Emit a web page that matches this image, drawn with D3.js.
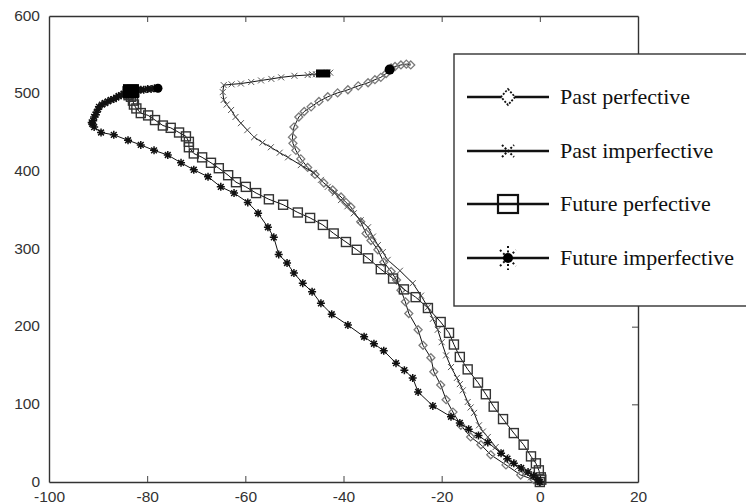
<!DOCTYPE html>
<html>
<head>
<meta charset="utf-8">
<script src="https://cdn.jsdelivr.net/npm/d3@7"></script>
<style>
  body { margin: 0; background: #fff; }
  svg { display: block; }
</style>
</head>
<body>
<div class="main-container"></div>
<script>
// data (x, y pairs from the origin outwards)
var pastPerfX = [0, -1.2, -3.9, -6.9, -10.0, -12.0, -14.1, -16.1, -17.7, -19.1, -20.2, -21.6, -22.2, -23.8, -24.8, -26.7, -27.4, -28.3, -29.2, -30.3, -31.8, -33.0, -34.4, -35.4, -36.5, -38.5, -39.5, -40.5, -42.2, -44.0, -45.8, -47.3, -48.7, -49.7, -50.3, -50.4, -50.1, -49.1, -48.0, -46.6, -45.0, -43.2, -41.2, -39.1, -37.0, -35.0, -33.6, -32.4, -31.3, -30.6, -30.3, -29.5, -28.3, -27.2, -26.3];
var pastPerfY = [0, 3, 9, 22, 35, 48, 58, 73, 90, 106, 125, 142, 160, 176, 196, 217, 232, 247, 260, 271, 283, 299, 311, 320, 335, 354, 360, 367, 376, 385, 396, 405, 416, 427, 436, 444, 457, 470, 477, 483, 490, 496, 501, 505, 510, 514, 518, 521, 526, 530, 533, 535, 537, 538, 537];

var pastImpX = [0, -0.6, -1.8, -3.1, -4.5, -5.7, -6.9, -8.0, -9.0, -10.6, -11.6, -12.4, -13.4, -14.1, -14.7, -15.7, -16.3, -16.9, -18.1, -19.1, -20.0, -20.8, -21.8, -22.8, -24.2, -25.9, -28.5, -31.0, -32.0, -33.0, -34.0, -35.0, -36.5, -37.9, -39.2, -40.5, -41.8, -43.2, -44.6, -46.0, -48.7, -51.3, -53.0, -54.8, -56.5, -58.2, -59.6, -60.9, -62.0, -62.9, -63.8, -64.4, -64.6, -64.4, -62.8, -60.9, -58.8, -56.8, -54.7, -52.7, -50.0, -47.3, -46.4, -45.6, -44.8, -44.0, -43.3, -42.7];
var pastImpY = [0, 2, 6, 12, 19, 25, 32, 38, 45, 58, 65, 73, 89, 96, 103, 118, 126, 134, 148, 163, 180, 196, 210, 225, 240, 256, 272, 286, 296, 305, 316, 328, 337, 346, 355, 363, 372, 380, 389, 398, 408, 418, 424, 431, 437, 444, 453, 462, 470, 479, 486, 492, 502, 511, 512, 513, 515, 517, 519, 521, 523, 524, 525, 525, 526, 526, 527, 527];

var futPerfX = [0, 0.3, 0.2, -0.2, -0.8, -1.8, -3.3, -5.3, -7.5, -9.4, -11.0, -12.6, -14.7, -16.3, -17.5, -18.5, -20.2, -22.8, -25.3, -27.7, -29.9, -32.4, -35.0, -37.3, -39.5, -42.0, -44.2, -46.8, -49.3, -52.3, -55.2, -57.8, -59.9, -61.9, -63.5, -65.4, -67.0, -68.8, -70.5, -71.5, -71.5, -72.1, -73.5, -75.2, -76.8, -78.4, -79.8, -81.3, -82.2, -82.7, -82.9, -83.3, -83.6, -84.0, -83.1, -82.6, -83.8];
var futPerfY = [0, 3, 6, 15, 24, 33, 48, 63, 81, 97, 113, 128, 145, 161, 177, 192, 206, 224, 238, 248, 262, 274, 288, 299, 309, 320, 331, 340, 347, 357, 364, 372, 380, 386, 395, 404, 411, 418, 423, 431, 438, 445, 450, 456, 459, 466, 472, 475, 481, 486, 491, 496, 500, 503, 505, 502, 498];

var futImpX = [0, -0.4, -1.3, -2.4, -3.8, -5.3, -6.6, -7.9, -10.6, -12.5, -14.5, -16.3, -18.1, -21.8, -24.8, -25.9, -27.6, -29.3, -31.8, -33.8, -35.8, -39.1, -42.4, -44.6, -46.4, -48.3, -50.1, -51.5, -53.2, -54.2, -55.4, -57.4, -59.5, -62.3, -65.0, -67.6, -70.5, -73.1, -75.8, -78.6, -81.3, -83.9, -86.8, -89.4, -90.8, -91.2, -91.3, -91.0, -90.8, -90.5, -90.3, -90.0, -89.8, -89.2, -88.6, -88.0, -87.4, -86.8, -86.3, -85.8, -85.3, -84.8, -84.3, -83.8, -83.3, -82.6, -82.0, -81.3, -80.7, -79.9, -79.2, -78.5, -77.8];
var futImpY = [0, 3, 8, 13, 18, 24, 30, 37, 51, 60, 68, 76, 84, 98, 116, 134, 144, 153, 169, 178, 187, 202, 216, 230, 245, 256, 269, 282, 293, 315, 328, 346, 360, 372, 380, 393, 402, 411, 421, 427, 434, 440, 447, 450, 457, 461, 463, 465, 470, 473, 476, 480, 483, 486, 488, 490, 492, 493, 495, 497, 498, 500, 502, 503, 505, 505, 505, 505, 505, 506, 506, 507, 507];

var seriesNames = ["Past perfective", "Past imperfective", "Future perfective", "Future imperfective"];
var xTicks = [-100, -80, -60, -40, -20, 0, 20];
var yTicks = [0, 100, 200, 300, 400, 500, 600];

var series = [
  { name: seriesNames[0], xs: pastPerfX, ys: pastPerfY, marker: "diamond" },
  { name: seriesNames[1], xs: pastImpX, ys: pastImpY, marker: "cross" },
  { name: seriesNames[2], xs: futPerfX, ys: futPerfY, marker: "square" },
  { name: seriesNames[3], xs: futImpX, ys: futImpY, marker: "star" }
];

var svg = d3.select(".main-container")
  .append("svg")
  .attr("width", 746)
  .attr("height", 504);

var x = d3.scaleLinear().domain([-100, 20]).range([49, 638]);
var y = d3.scaleLinear().domain([0, 600]).range([482, 16]);

var fmt = function (d) { return String(d); };

// bottom axis with labels, ticks pointing in
var gx = svg.append("g").attr("transform", "translate(0,482)")
  .call(d3.axisBottom(x).tickValues(xTicks).tickSizeInner(-6).tickSizeOuter(0).tickPadding(9).tickFormat(fmt));
// left axis, labels only
var gy = svg.append("g").attr("transform", "translate(49,0)")
  .call(d3.axisLeft(y).tickValues(yTicks).tickSizeInner(0).tickSizeOuter(0).tickPadding(9).tickFormat(fmt));
// top and right axes: ticks only
var gt = svg.append("g").attr("transform", "translate(0,16)")
  .call(d3.axisTop(x).tickValues(xTicks.slice(1, -1)).tickSizeInner(-6).tickSizeOuter(0).tickFormat(""));
var gr = svg.append("g").attr("transform", "translate(638,0)")
  .call(d3.axisRight(y).tickValues(yTicks.slice(1, -1)).tickSizeInner(-6).tickSizeOuter(0).tickFormat(""));

[gx, gy, gt, gr].forEach(function (g) {
  g.selectAll(".domain").attr("stroke", "#333").attr("stroke-width", 1.4);
  g.selectAll(".tick line").attr("stroke", "#444").attr("stroke-width", 1);
  g.selectAll(".tick text")
    .attr("font-family", "'Liberation Sans', Arial, sans-serif")
    .attr("font-size", 15.5)
    .attr("fill", "#333");
});
gy.selectAll(".tick text").attr("dy", "0.26em");

var line = d3.line()
  .x(function (d) { return x(d[0]); })
  .y(function (d) { return y(d[1]); });

function drawMarker(g, type, s) {
  if (type === "diamond") {
    g.append("path")
      .attr("d", "M0," + (-s) + "L" + s + ",0L0," + s + "L" + (-s) + ",0Z")
      .attr("fill", "none").attr("stroke", "#7a7a7a").attr("stroke-width", 1.3);
  } else if (type === "cross") {
    var c = s * 0.75;
    g.append("path")
      .attr("d", "M" + (-c) + "," + (-c) + "L" + c + "," + c + "M" + (-c) + "," + c + "L" + c + "," + (-c))
      .attr("stroke", "#555").attr("stroke-width", 1);
  } else if (type === "square") {
    g.append("rect")
      .attr("x", -s).attr("y", -s).attr("width", 2 * s).attr("height", 2 * s)
      .attr("fill", "none").attr("stroke", "#333").attr("stroke-width", 1.4);
  } else if (type === "star") {
    var a = s * 0.72;
    g.append("path")
      .attr("d", "M0," + (-s) + "L0," + s + "M" + (-s) + ",0L" + s + ",0M" + (-a) + "," + (-a) + "L" + a + "," + a + "M" + (-a) + "," + a + "L" + a + "," + (-a))
      .attr("stroke", "#111").attr("stroke-width", 1.5);
  }
}

var markerSize = { diamond: 4, cross: 4, square: 4.5, star: 4 };

series.forEach(function (s) {
  var pts = s.xs.map(function (v, i) { return [v, s.ys[i]]; });
  var g = svg.append("g");
  g.append("path")
    .datum(pts)
    .attr("d", line)
    .attr("fill", "none")
    .attr("stroke", "#111")
    .attr("stroke-width", 1);
  g.selectAll("g.mk")
    .data(pts)
    .enter()
    .append("g")
    .attr("class", "mk")
    .attr("transform", function (d) { return "translate(" + x(d[0]) + "," + y(d[1]) + ")"; })
    .each(function () { drawMarker(d3.select(this), s.marker, markerSize[s.marker]); });
});

// heavy end blobs seen in the picture
svg.append("rect")
  .attr("x", x(-83.3) - 8).attr("y", y(502) - 8).attr("width", 16).attr("height", 14)
  .attr("fill", "#000");
svg.append("circle")
  .attr("cx", x(-30.6)).attr("cy", y(531)).attr("r", 5).attr("fill", "#000");
svg.append("circle")
  .attr("cx", x(-77.8)).attr("cy", y(507)).attr("r", 4.5).attr("fill", "#000");
svg.append("rect")
  .attr("x", x(-45.6)).attr("y", y(526) - 4).attr("width", x(-42.7) - x(-45.6)).attr("height", 8)
  .attr("fill", "#000");

// legend
var legend = svg.append("g");
legend.append("rect")
  .attr("x", 454).attr("y", 54).attr("width", 310).attr("height", 252)
  .attr("fill", "#fff").attr("stroke", "#333").attr("stroke-width", 1.4);

var rowY = [97, 151, 204, 258];
series.forEach(function (s, i) {
  var row = legend.append("g").attr("transform", "translate(0," + rowY[i] + ")");
  row.append("line")
    .attr("x1", 467).attr("x2", 549).attr("y1", 0).attr("y2", 0)
    .attr("stroke", "#111").attr("stroke-width", 2.5);
  var m = row.append("g").attr("transform", "translate(508,0)");
  if (s.marker === "diamond") {
    m.append("path").attr("d", "M0,-8L7,0L0,8L-7,0Z")
      .attr("fill", "#fff").attr("stroke", "#111").attr("stroke-width", 1.8).attr("stroke-dasharray", "2,1.5");
  } else if (s.marker === "cross") {
    m.append("path").attr("d", "M-6,-6L6,6M-6,6L6,-6")
      .attr("stroke", "#111").attr("stroke-width", 2).attr("stroke-dasharray", "2,2");
  } else if (s.marker === "square") {
    m.append("rect").attr("x", -10).attr("y", -9).attr("width", 20).attr("height", 18)
      .attr("fill", "#fff").attr("stroke", "#111").attr("stroke-width", 2.2);
    m.append("line").attr("x1", -10).attr("x2", 10).attr("stroke", "#111").attr("stroke-width", 2.5);
  } else {
    m.append("path").attr("d", "M0,-12L0,12M-10,0L10,0M-8,-8L8,8M-8,8L8,-8")
      .attr("stroke", "#111").attr("stroke-width", 2).attr("stroke-dasharray", "2,2.5");
    m.append("circle").attr("r", 5).attr("fill", "#000");
  }
  row.append("text")
    .attr("x", 560).attr("y", 0).attr("dy", "0.33em")
    .attr("font-family", "'Liberation Serif', 'Times New Roman', serif")
    .attr("font-size", 22)
    .attr("fill", "#111")
    .text(s.name);
});
</script>
</body>
</html>
